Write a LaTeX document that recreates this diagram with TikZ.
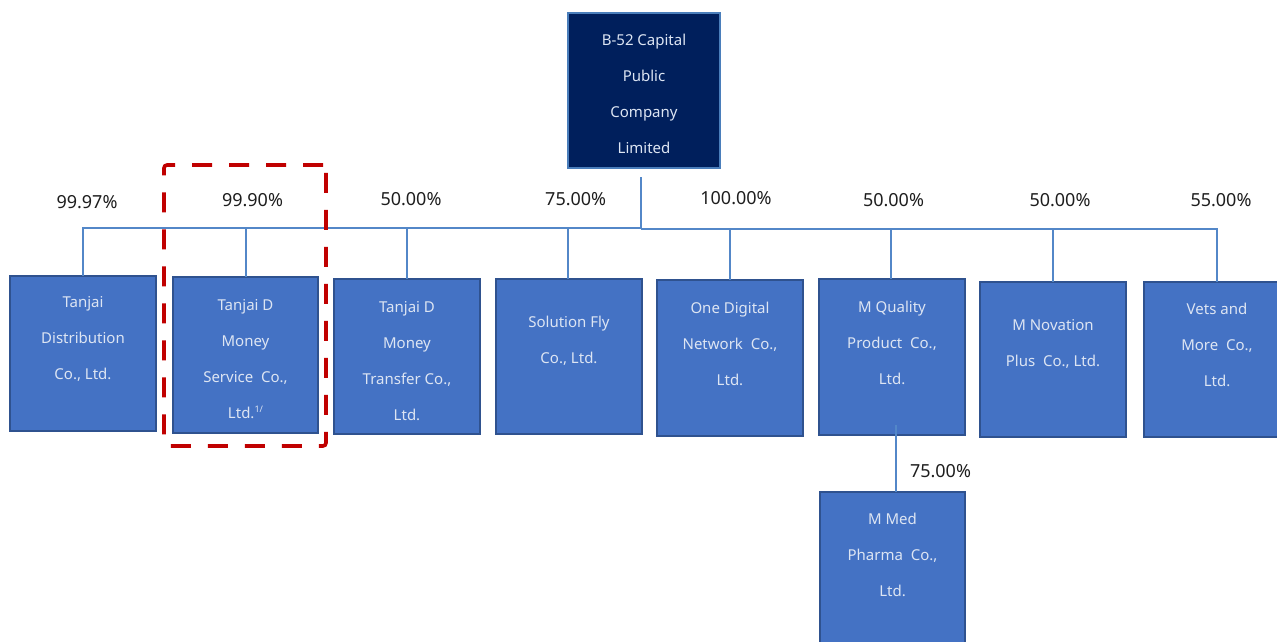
\documentclass[tikz,border=0pt]{standalone}
\usepackage{fontspec}
\setmainfont{Noto Sans}
\definecolor{boxfill}{HTML}{4472C4}
\definecolor{boxline}{HTML}{2F528F}
\definecolor{topfill}{HTML}{001F5C}
\definecolor{topline}{HTML}{4A7EBB}
\definecolor{connc}{HTML}{5387C8}
\definecolor{boxtext}{HTML}{DDE5F3}
\definecolor{redline}{HTML}{C00000}
\definecolor{pcttext}{HTML}{1E1E1E}
\tikzset{
  cbox/.style={draw=boxline, line width=2.2pt, fill=boxfill, inner sep=0pt, outer sep=0pt},
  topbox/.style={draw=topline, line width=1.8pt, fill=topfill, inner sep=0pt, outer sep=0pt},
  btext/.style={text=boxtext, align=center, inner sep=0pt, font=\fontsize{15}{36}\selectfont},
  pct/.style={text=pcttext, inner sep=0pt, font=\fontsize{18}{20}\selectfont},
  connector/.style={draw=connc, line width=1.7pt},
  hlbox/.style={draw=redline, line width=3.6pt, dash pattern=on 20pt off 17pt, rounded corners=3pt, inner sep=0pt, fill=none},
}
\begin{document}
\begin{tikzpicture}[x=1pt,y=-1pt]
\useasboundingbox (0,0) rectangle (1277,642);
\clip (0,0) rectangle (1277,642);
\fill[white] (0,0) rectangle (1277,642);

% parent
\node[topbox, minimum width=152pt, minimum height=155pt] (p) at (644,90.5) {};
\node[btext] (pt) at (644,94) {B-52 Capital\\Public\\Company\\Limited};

% subsidiaries
\node[cbox, minimum width=146pt, minimum height=155pt] (b1) at (83,353.5) {};
\node[cbox, minimum width=145pt, minimum height=156pt] (b2) at (245.5,355) {};
\node[cbox, minimum width=146pt, minimum height=155pt] (b3) at (407,356.5) {};
\node[cbox, minimum width=146pt, minimum height=155pt] (b4) at (569,356.5) {};
\node[cbox, minimum width=146pt, minimum height=156pt] (b5) at (730,358) {};
\node[cbox, minimum width=146pt, minimum height=156pt] (b6) at (892,357) {};
\node[cbox, minimum width=146pt, minimum height=155pt] (b7) at (1053,359.5) {};
\node[cbox, minimum width=146pt, minimum height=155pt] (b8) at (1217,359.5) {};
\node[cbox, minimum width=145pt, minimum height=168pt] (mm) at (892.5,576) {};

\node[btext] (t1) at (83,339.3) {Tanjai\\Distribution\\Co., Ltd.};
\node[btext] (t2) at (245.5,358.7) {Tanjai D\\Money\\Service\ \ Co.,\\Ltd.\raisebox{6pt}{\fontsize{9}{9}\selectfont 1/}};
\node[btext] (t3) at (407,360.7) {Tanjai D\\Money\\Transfer Co.,\\Ltd.};
\node[btext] (t4) at (569,341) {Solution Fly\\Co., Ltd.};
\node[btext] (t5) at (730,343.7) {One Digital\\Network\ \ Co.,\\Ltd.};
\node[btext] (t6) at (892,343) {M Quality\\Product\ \ Co.,\\Ltd.};
\node[btext] (t7) at (1053,344) {M Novation\\Plus\ \ Co., Ltd.};
\node[btext] (t8) at (1217,345) {Vets and\\More\ \ Co.,\\Ltd.};
\node[btext] (tm) at (892.5,555.3) {M Med\\Pharma\ \ Co.,\\Ltd.};

% connectors
\coordinate (pstart) at (641,177);
\coordinate (busL) at (641,227.7);
\coordinate (busR) at (641,229.3);
\draw[connector] (pstart) -- (busR);
\draw[connector] (busL) -| (b1.north);
\draw[connector] (busL) -| ([xshift=0.2pt]b2.north);
\draw[connector] (busL) -| (b3.north);
\draw[connector] (busL) -| ([xshift=-1pt]b4.north);
\draw[connector] (busR) -| (b5.north);
\draw[connector] (busR) -| ([xshift=-1pt]b6.north);
\draw[connector] (busR) -| (b7.north);
\draw[connector] (busR) -| (b8.north);
\coordinate (mqin) at (896,425);
\draw[connector] (mqin) -- (mqin |- mm.north);

% percentages
\node[pct] (l1) at (87,202) {99.97\%};
\node[pct] (l2) at (252.5,200) {99.90\%};
\node[pct] (l3) at (411,199) {50.00\%};
\node[pct] (l4) at (575.7,199) {75.00\%};
\node[pct] (l5) at (736,198.5) {100.00\%};
\node[pct] (l6) at (893.5,200.5) {50.00\%};
\node[pct] (l7) at (1060,200.5) {50.00\%};
\node[pct] (l8) at (1221,200.5) {55.00\%};
\node[pct] (l9) at (940.5,471.5) {75.00\%};

% highlight
\node[hlbox, minimum width=162pt, minimum height=281pt] (hl) at (245,305.5) {};
\end{tikzpicture}
\end{document}
